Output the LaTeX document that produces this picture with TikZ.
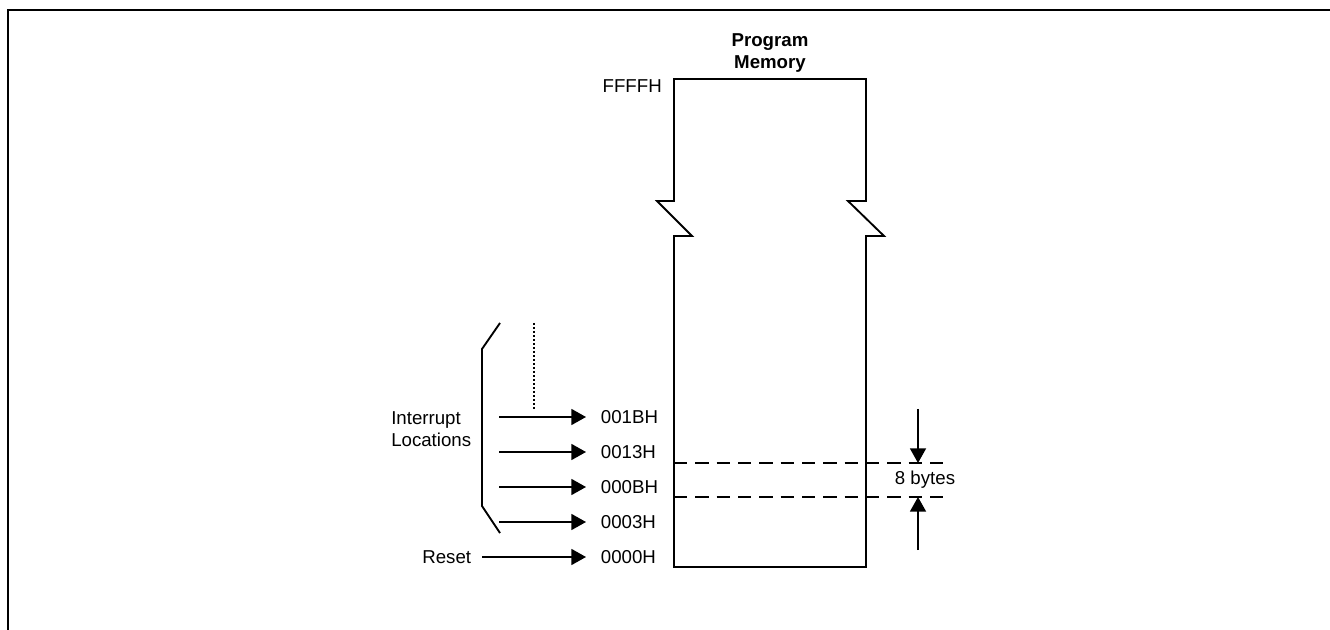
\documentclass[tikz,border=0pt]{standalone}
\usepackage{fontspec}
\setmainfont{Liberation Sans}
\usetikzlibrary{positioning, arrows.meta}
\tikzset{
    memline/.style={line width=1.4pt, line join=miter},
    vecarrow/.style={-{Triangle[length=11pt, width=12pt]}, line width=1.3pt},
    addrlabel/.style={anchor=west, inner xsep=11pt, inner ysep=0pt, font=\fontsize{14}{16}\selectfont},
    plainlabel/.style={inner sep=0pt, font=\fontsize{14}{16.5}\selectfont},
    bytedash/.style={dash pattern=on 10pt off 6pt, line width=1pt},
}

\begin{document}
\begin{tikzpicture}[x=0.75pt, y=-0.75pt]
    \useasboundingbox (0,0) rectangle (1330,630);

    % Rahmen (oben und links)
    \draw[line width=2.2pt] (8,630) -- (8,10) -- (1330,10);

    % Programmspeicher mit Bruchstelle
    \draw[memline] (674,79) -- (866,79) -- (866,201) -- (848,201) -- (884,236)
        -- (866,236) -- (866,567) -- (674,567) -- (674,236) -- (692,236)
        -- (657,201) -- (674,201) -- cycle;
    \node[align=center, inner sep=0pt, font=\bfseries\fontsize{14}{17}\selectfont] (title) at (770,53) {Program\\Memory};
    \node[plainlabel, anchor=east] (aFFFF) at (662,86) {FFFFH};

    % Adressen
    \node[addrlabel] (a001B) at (586,417) {001BH};
    \node[addrlabel] (a0013) at (586,452) {0013H};
    \node[addrlabel] (a000B) at (586,487) {000BH};
    \node[addrlabel] (a0003) at (586,522) {0003H};
    \node[addrlabel] (a0000) at (586,557) {0000H};

    % Interrupt-Pfeile
    \foreach \adr/\yy in {001B/417, 0013/452, 000B/487, 0003/522}
        \coordinate (s\adr) at (499,\yy);
    \foreach \adr in {001B, 0013, 000B, 0003}
        \draw[vecarrow] (s\adr) -- (a\adr.west);

    % Klammer und punktierte Linie
    \draw[memline] (500,323) -- (482,349) -- (482,506) -- (500,533);
    \coordinate (dottop) at (534,323);
    \coordinate (dotbot) at (534,410);
    \draw[line width=1.1pt, dash pattern=on 1.3pt off 1.7pt] (dottop) -- (dotbot);
    \node[plainlabel, align=left, anchor=west] (intloc) at (391,429) {Interrupt\\Locations};

    % Reset
    \node[plainlabel, anchor=east, inner xsep=8pt] (reset) at (482,557) {Reset};
    \draw[vecarrow] (reset.east) -- (a0000.west);

    % 8 Bytes
    \coordinate (d1l) at (674,463);
    \coordinate (d1r) at (943,463);
    \coordinate (d2l) at (674,497);
    \coordinate (d2r) at (943,497);
    \draw[bytedash] (d1l) -- (d1r);
    \draw[bytedash] (d2l) -- (d2r);
    \coordinate (uptop) at (918,409);
    \coordinate (dnbot) at (918,550);
    \draw[vecarrow] (uptop) -- (918,463);
    \draw[vecarrow] (dnbot) -- (918,497);
    \node[plainlabel] (bytes) at (925,480) {8 bytes};
\end{tikzpicture}
\end{document}
